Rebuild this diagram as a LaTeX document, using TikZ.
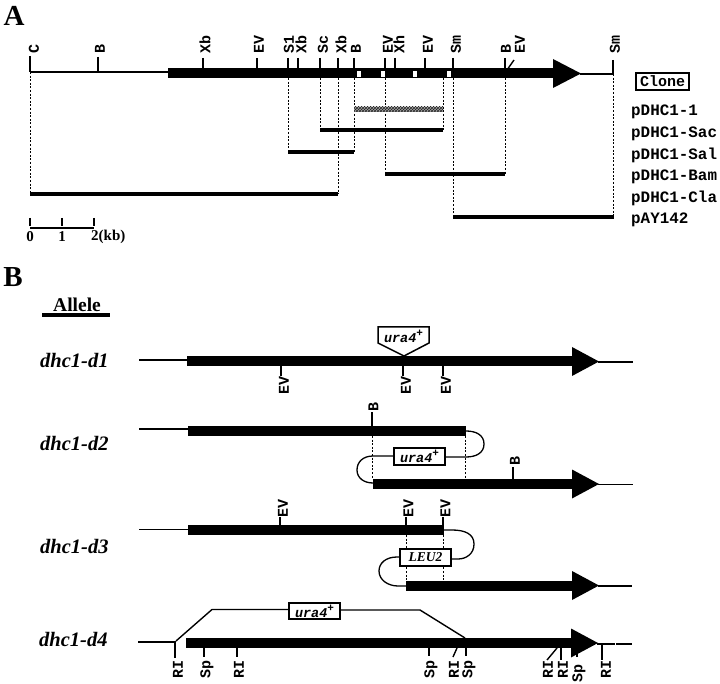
\documentclass[tikz,border=0pt]{standalone}
\usepackage{fontspec}
\usetikzlibrary{patterns}
\setmainfont{Liberation Serif}
\setmonofont{Liberation Mono}
\newcommand{\uraplus}{ura4\raisebox{0.45em}{\fontsize{11}{11}\selectfont +}}
\tikzset{
  x=1pt,y=-1pt,
  thinline/.style={line width=1.3pt,black},
  tickline/.style={line width=1.4pt,black},
  dotline/.style={line width=1pt,black,dash pattern=on 2pt off 1.6pt},
  clonebar/.style={line width=3.3pt,black},
  gene/.style={fill=black,draw=none},
  sitelabel/.style={rotate=90,inner sep=0pt,font=\ttfamily\bfseries\fontsize{15}{15}\selectfont},
  clonelabel/.style={anchor=west,inner sep=0pt,font=\ttfamily\bfseries\fontsize{15.9}{16}\selectfont},
  panel/.style={inner sep=0pt,font=\bfseries\fontsize{29}{29}\selectfont},
  allele/.style={anchor=west,inner sep=0pt,font=\bfseries\itshape\fontsize{20.5}{21}\selectfont},
  scalelabel/.style={inner sep=0pt,font=\bfseries\fontsize{15}{15}\selectfont},
  markerbox/.style={draw=black,line width=1.5pt,fill=white,inner sep=0pt,anchor=center,font=\ttfamily\bfseries\itshape\fontsize{13.5}{14}\selectfont},
}
% \site{name}{tick x}{tick y0}{tick x1}{tick y1}{label x}{label y}{text}
\newcommand{\site}[8]{%
  \node[sitelabel] (#1) at (#6,#7) {#8};
  \draw[tickline] (#2,#3) -- (#4,#5);
}
% \genebar{x0}{x1}{y centre}{head x0}{tip x}
\newcommand{\genebar}[5]{%
  \fill[gene] (#1,#3-5) -- (#4+2,#3-5) -- (#4+2,#3+5) -- (#1,#3+5) -- cycle;
  \fill[gene] (#4,#3-14.5) -- (#5,#3) -- (#4,#3+14.5) -- cycle;
}
\begin{document}
\begin{tikzpicture}
\useasboundingbox (0,0) rectangle (720,684);
\fill[white] (0,0) rectangle (720,684);

% ---------- Panel A
\node[panel] (pA) at (14,16) {A};
\draw[thinline] (30,72) -- (170,72);
\genebar{168}{553}{73.5}{553}{581}
\draw[thinline] (580,74) -- (614,74);
\foreach \wx in {359,383,415,449}{\fill[white] (\wx-2,71) rectangle (\wx+2,77);}

\site{a1}{30}{56}{30}{72}{34}{49}{C}
\site{a2}{98}{57}{98}{72}{100}{49}{B}
\site{a3}{203}{58}{203}{69}{205}{45}{Xb}
\site{a4}{257}{58}{257}{69}{259}{45}{EV}
\site{a5}{288}{58}{288}{69}{289}{45}{S1}
\site{a6}{298}{58}{298}{69}{301}{45}{Xb}
\site{a7}{320}{58}{320}{69}{323}{45}{Sc}
\site{a8}{338}{58}{338}{69}{341}{45}{Xb}
\site{a9}{354}{58}{354}{69}{356}{49}{B}
\site{a10}{385}{58}{385}{69}{388}{45}{EV}
\site{a11}{395}{58}{395}{69}{399}{45}{Xh}
\site{a12}{425}{58}{425}{69}{428}{45}{EV}
\site{a13}{453}{58}{453}{69}{456}{45}{Sm}
\site{a14}{505}{58}{505}{69}{506}{49}{B}
\site{a15}{507}{70}{514}{60}{520}{45}{EV}
\site{a16}{613}{60}{613}{74}{615}{45}{Sm}

\draw[dotline] (30,72) -- (30,194);
\draw[dotline] (288,78) -- (288,152);
\draw[dotline] (320,78) -- (320,130);
\draw[dotline] (338,78) -- (338,194);
\draw[dotline] (354,78) -- (354,152);
\draw[dotline] (385,78) -- (385,174);
\draw[dotline] (443,78) -- (443,130);
\draw[dotline] (453,78) -- (453,217);
\draw[dotline] (505,78) -- (505,174);
\draw[dotline] (613.5,74) -- (613.5,217);

\fill[black!35] (354,107) rectangle (443,112);
\fill[pattern=crosshatch,pattern color=black!85] (354,107) rectangle (443,112);
\draw[clonebar] (320,130) -- (443,130);
\draw[clonebar] (288,152) -- (354,152);
\draw[clonebar] (385,174) -- (505,174);
\draw[clonebar] (30,194) -- (338,194);
\draw[clonebar] (453,217) -- (614,217);

\node[draw=black,line width=1.7pt,minimum width=53pt,minimum height=17pt,inner sep=0pt,
      font=\ttfamily\bfseries\fontsize{15}{15}\selectfont] (clone) at (662.5,81.5) {Clone};
\node[clonelabel] (c1) at (631,112) {pDHC1-1};
\node[clonelabel] (c2) at (631,134) {pDHC1-Sac};
\node[clonelabel] (c3) at (631,155) {pDHC1-Sal};
\node[clonelabel] (c4) at (631,177) {pDHC1-Bam};
\node[clonelabel] (c5) at (631,198) {pDHC1-Cla};
\node[clonelabel] (c6) at (631,220) {pAY142};

% scale
\draw[tickline] (30,228) -- (94,228);
\foreach \sx in {30,62,94}{\draw[tickline] (\sx,218) -- (\sx,226);}
\node[scalelabel] (s0) at (30,237) {0};
\node[scalelabel] (s1) at (62,237) {1};
\node[scalelabel,anchor=west] (s2) at (91,237) {2(kb)};

% ---------- Panel B
\node[panel] (pB) at (13,277) {B};
\node[inner sep=0pt,font=\bfseries\fontsize{19.5}{20}\selectfont] (al) at (77,305) {Allele};
\draw[line width=3.3pt] (42,315) -- (110,315);

% d1
\node[allele] (d1) at (40,360) {dhc1-d1};
\draw[thinline] (139,360) -- (188,360);
\genebar{187}{572}{361.5}{572}{599}
\draw[thinline] (598,362) -- (633,362);
\draw[tickline] (281,366) -- (281,376);
\node[sitelabel] (e1) at (284,385) {EV};
\draw[tickline] (403,366) -- (403,376);
\node[sitelabel] (e2) at (406,385) {EV};
\draw[tickline] (443,366) -- (443,376);
\node[sitelabel] (e3) at (446,385) {EV};
\draw[line width=1.5pt,fill=white] (378,327) -- (429,327) -- (429,343) -- (404,356) -- (378,343) -- cycle;
\node[inner sep=0pt,font=\ttfamily\bfseries\itshape\fontsize{13.5}{14}\selectfont] (u1) at (403.5,336) {\uraplus};

% d2
\node[allele] (d2) at (40,443) {dhc1-d2};
\draw[thinline] (139,429) -- (189,429);
\fill[gene] (188,425.5) rectangle (466,436);
\site{b1}{372}{412}{372}{426}{373.5}{407}{B}
\draw[dotline] (372.5,436) -- (372.5,479);
\draw[dotline] (465.5,436) -- (465.5,479);
\node[markerbox,minimum width=51pt,minimum height=17pt] (u2) at (419.5,456.5) {\uraplus};
\draw[thinline] (466,431) .. controls (476,431) and (484,435) .. (484,444) .. controls (484,453) and (476,457) .. (466,457) -- (445,457);
\draw[thinline] (394,456) -- (373,456) .. controls (363,456) and (357,462) .. (357,470) .. controls (357,478) and (364,483) .. (373,483);
\genebar{373}{572}{484}{572}{599}
\draw[thinline] (598,484.5) -- (633,484.5);
\site{b2}{513}{467}{513}{480}{515}{461}{B}

% d3
\node[allele] (d3) at (40,546) {dhc1-d3};
\draw[thinline] (139,529.5) -- (189,529.5);
\fill[gene] (188,525) rectangle (443.5,535);
\site{b3}{280}{517}{280}{526}{283}{508}{EV}
\site{b4}{406}{517}{406}{526}{408.5}{508}{EV}
\site{b5}{443}{517}{443}{526}{445.5}{508}{EV}
\draw[dotline] (406.5,535) -- (406.5,580);
\draw[dotline] (443.5,535) -- (443.5,580);
\draw[thinline] (443,530) -- (452,530) .. controls (465,530) and (474,534) .. (474,544) .. controls (474,554) and (466,559) .. (458,559) -- (451,559);
\node[markerbox,minimum width=51pt,minimum height=17pt,font=\bfseries\itshape\fontsize{13.5}{14}\selectfont] (l2) at (425.5,557.5) {LEU2};
\draw[thinline] (400,557) -- (397,557) .. controls (386,557) and (379,563) .. (379,571) .. controls (379,580) and (388,586) .. (398,586) -- (406,586);
\genebar{406}{572}{585.5}{572}{599}
\draw[thinline] (598,586) -- (632,586);

% d4
\node[allele] (d4) at (39,639) {dhc1-d4};
\draw[thinline] (138,642) -- (176,642);
\genebar{186}{571}{643}{571}{598}
\draw[thinline] (597,644) -- (615,644);
\draw[thinline] (616,644) -- (632,644);
\node[markerbox,minimum width=51pt,minimum height=16pt] (u4) at (314.5,611) {\uraplus};
\draw[line width=1.4pt] (176,641) -- (212,609.5) -- (289,609.5);
\draw[line width=1.4pt] (340,610) -- (420,610) -- (465,638);
\site{r1}{175}{642}{175}{658}{178}{669}{RI}
\site{r2}{204}{648}{204}{657}{207}{669}{Sp}
\site{r3}{237}{648}{237}{657}{239}{669}{RI}
\site{r4}{429}{648}{429}{656}{431}{669}{Sp}
\site{r5}{457}{648}{453}{657}{454}{669}{RI}
\site{r6}{466}{648}{466}{656}{469}{669}{Sp}
\site{r7}{557}{648}{547}{660}{548}{669}{RI}
\site{r8}{561}{648}{561}{660}{563}{669}{RI}
\site{r9}{577}{650}{577}{657}{579}{673}{Sp}
\site{r10}{602}{645}{602}{660}{606}{669}{RI}
\end{tikzpicture}
\end{document}
